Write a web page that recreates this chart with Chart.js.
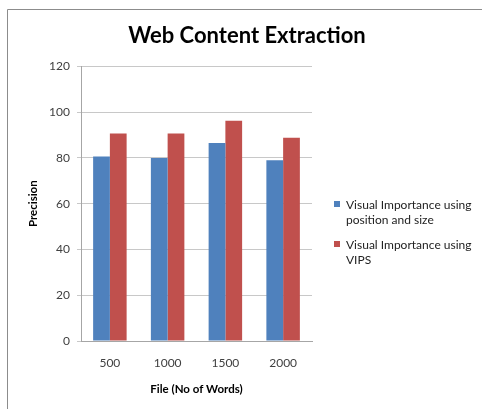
<!DOCTYPE html>
<html>
<head>
<meta charset="utf-8">
<script src="https://cdn.jsdelivr.net/npm/chart.js@4/dist/chart.umd.min.js"></script>
<style>
  html, body { margin: 0; padding: 0; background: #fff; }
  #wrap { position: relative; width: 482px; height: 409px; }
</style>
</head>
<body>
<div id="wrap"><canvas id="chart" width="482" height="409"></canvas></div>
<script>
const categories = ["500", "1000", "1500", "2000"];
const seriesNames = ["Visual Importance using position and size", "Visual Importance using VIPS"];
const positionSize = [80.6, 80.0, 86.5, 79.0];
const vips = [90.7, 90.7, 96.2, 88.8];
const yTicks = [0, 20, 40, 60, 80, 100, 120];

const FONT = "Lato, 'Open Sans', sans-serif";

// frame line of the original picture (left and top edge only)
const framePlugin = {
    id: "frame",
    beforeDraw(chart) {
        const ctx = chart.ctx;
        ctx.save();
        ctx.strokeStyle = "#8c8c8c";
        ctx.lineWidth = 1;
        ctx.beginPath();
        ctx.moveTo(7.5, 409);
        ctx.lineTo(7.5, 9.5);
        ctx.lineTo(482, 9.5);
        ctx.stroke();
        ctx.restore();
    }
};

// legend on the right with wrapped labels
const sideLegend = {
    id: "sideLegend",
    afterDraw(chart) {
        const ctx = chart.ctx;
        ctx.save();
        ctx.font = "12px " + FONT;
        ctx.textBaseline = "middle";
        let y = 205;
        chart.data.datasets.forEach(ds => {
            const words = ds.label.split(" ");
            const lines = [];
            let line = "";
            words.forEach(w => {
                const test = line ? line + " " + w : w;
                if (ctx.measureText(test).width > 130 && line) {
                    lines.push(line);
                    line = w;
                } else {
                    line = test;
                }
            });
            lines.push(line);
            ctx.fillStyle = ds.backgroundColor;
            ctx.fillRect(334, y - 4, 6, 6);
            ctx.fillStyle = "#222";
            lines.forEach((l, i) => ctx.fillText(l, 346, y + i * 15));
            y += lines.length * 15 + 10;
        });
        ctx.restore();
    }
};

new Chart(document.getElementById("chart").getContext("2d"), {
    type: "bar",
    data: {
        labels: categories,
        datasets: [
            { label: seriesNames[0], data: positionSize, backgroundColor: "#4F81BD" },
            { label: seriesNames[1], data: vips, backgroundColor: "#C0504D" }
        ]
    },
    options: {
        responsive: false,
        animation: false,
        layout: { padding: { left: 12, right: 0, top: 0, bottom: 0 } },
        datasets: { bar: { categoryPercentage: 0.58, barPercentage: 1 } },
        plugins: {
            legend: { display: false },
            tooltip: { enabled: false },
            title: {
                display: true,
                text: "Web Content Extraction",
                color: "#000",
                font: { family: FONT, size: 22, weight: "bold" },
                padding: { top: 23, bottom: 17 }
            }
        },
        scales: {
            x: {
                grid: { display: false, drawTicks: false },
                border: { display: true, color: "#a6a6a6" },
                ticks: { color: "#404040", font: { family: FONT, size: 12 }, padding: 15 },
                title: {
                    display: true,
                    text: "File (No of Words)",
                    color: "#000",
                    font: { family: FONT, size: 11.5, weight: "bold" },
                    padding: { top: 0, bottom: 13 }
                },
                afterFit(scale) { scale.height = 68; }
            },
            y: {
                min: 0,
                max: 120,
                afterBuildTicks(scale) { scale.ticks = yTicks.map(v => ({ value: v })); },
                grid: { color: "#c8c8c8", tickLength: 4, drawTicks: true },
                border: { display: true, color: "#a6a6a6" },
                ticks: { color: "#404040", font: { family: FONT, size: 12 }, padding: 7 },
                title: {
                    display: true,
                    text: "Precision",
                    color: "#000",
                    font: { family: FONT, size: 11.5, weight: "bold" },
                    padding: { top: 14, bottom: 0 }
                },
                afterFit(scale) { scale.width = 69; }
            },
            // empty right-hand axis that keeps room for the legend
            side: {
                position: "right",
                min: 0,
                max: 120,
                grid: { display: false, drawTicks: false },
                border: { display: false },
                ticks: { display: false },
                afterFit(scale) { scale.width = 170; }
            }
        }
    },
    plugins: [framePlugin, sideLegend]
});
</script>
</body>
</html>
